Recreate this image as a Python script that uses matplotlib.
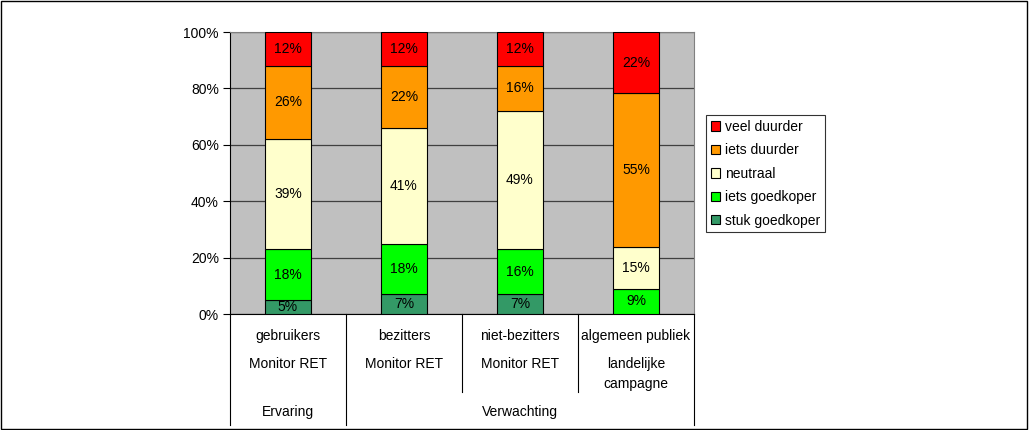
import matplotlib
matplotlib.use("Agg")
import matplotlib.pyplot as plt
import numpy as np
from matplotlib.patches import Rectangle
from matplotlib.transforms import blended_transform_factory

plt.rcParams['font.family'] = ['Liberation Sans', 'DejaVu Sans']
plt.rcParams['font.size'] = 10

# Data
row1 = ["gebruikers", "bezitters", "niet-bezitters", "algemeen publiek"]
row2 = ["Monitor RET", "Monitor RET", "Monitor RET", "landelijke\ncampagne"]
groups = ["Ervaring", "Verwachting"]
group_spans = [(0, 0), (1, 3)]

series = ["stuk goedkoper", "iets goedkoper", "neutraal", "iets duurder", "veel duurder"]
stuk_goedkoper = [5, 7, 7, 0]
iets_goedkoper = [18, 18, 16, 9]
neutraal = [39, 41, 49, 15]
iets_duurder = [26, 22, 16, 55]
veel_duurder = [12, 12, 12, 22]
colors = ['#339966', '#00FF00', '#FFFFCC', '#FF9900', '#FF0000']

values = np.array([stuk_goedkoper, iets_goedkoper, neutraal, iets_duurder, veel_duurder], dtype=float)
shares = values / values.sum(axis=0) * 100

fig = plt.figure(figsize=(10.29, 4.30), dpi=100)
ax = fig.add_axes([230 / 1029, 116 / 430, 464 / 1029, 282 / 430])
ax.set_facecolor('#C0C0C0')

x = np.arange(len(row1))
bottom = np.zeros(len(row1))
handles = []
for i, name in enumerate(series):
    bars = ax.bar(x, shares[i], 0.405, bottom=bottom, color=colors[i],
                  edgecolor='black', linewidth=0.8, label=name, zorder=3)
    handles.append(bars)
    for xi, (b, h, v) in enumerate(zip(bottom, shares[i], values[i])):
        if v > 0:
            ax.text(xi, b + h / 2, f"{v:.0f}%", ha='center', va='center', zorder=4)
    bottom += shares[i]

ax.set_xlim(-0.5, len(row1) - 0.5)
ax.set_ylim(0, 100)
ax.set_yticks(np.arange(0, 101, 20))
ax.set_yticklabels([f"{t}%" for t in range(0, 101, 20)])
ax.set_xticks([])
ax.grid(axis='y', color='#404040', linewidth=0.9, zorder=1)
ax.set_axisbelow(True)
ax.tick_params(axis='y', length=5, width=0.8, pad=3)
for s in ['top', 'right']:
    ax.spines[s].set_color('#808080')
for s in ['left', 'bottom']:
    ax.spines[s].set_color('black')

# category table under the axis
tr = blended_transform_factory(ax.transData, fig.transFigure)
def fy(py):
    return 1 - py / 430

for xb in [-0.5, 0.5, 3.5]:
    ax.plot([xb, xb], [fy(314), fy(425)], color='black', lw=0.8, transform=tr, clip_on=False)
for xb in [1.5, 2.5]:
    ax.plot([xb, xb], [fy(314), fy(392)], color='black', lw=0.8, transform=tr, clip_on=False)

for xi in x:
    ax.text(xi, fy(336), row1[xi], ha='center', va='center', transform=tr)
    ax.text(xi, fy(364), row2[xi].split("\n")[0], ha='center', va='center', transform=tr)
    if "\n" in row2[xi]:
        ax.text(xi, fy(384), row2[xi].split("\n")[1], ha='center', va='center', transform=tr)

for g, (a, b) in zip(groups, group_spans):
    ax.text((a + b) / 2, fy(412), g, ha='center', va='center', transform=tr)

leg = fig.legend(handles[::-1], series[::-1], loc='upper left',
                 bbox_to_anchor=(706 / 1029, fy(115)), frameon=True, fancybox=False,
                 edgecolor='black', handlelength=0.65, handleheight=0.65,
                 handletextpad=0.35, labelspacing=0.68, borderpad=0.35,
                 borderaxespad=0)
leg.get_frame().set_linewidth(0.8)

fig.patches.append(Rectangle((0.001, 0.002), 0.997, 0.996, transform=fig.transFigure,
                             fill=False, edgecolor='black', linewidth=1))

fig.savefig("out.png", dpi=100)
